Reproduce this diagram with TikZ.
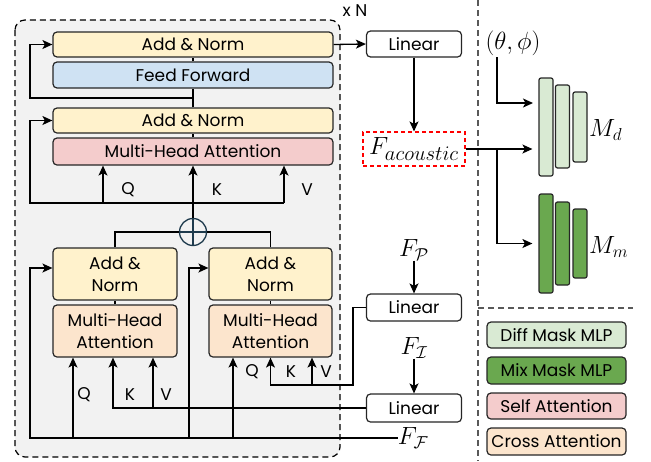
\documentclass[tikz,border=0pt]{standalone}
\usepackage{amsmath}
\usepackage{fontspec}
\setmainfont{Poppins}
\usetikzlibrary{arrows.meta, positioning}

\definecolor{bggray}{HTML}{F2F2F2}
\definecolor{normyellow}{HTML}{FFF2CC}
\definecolor{ffblue}{HTML}{CFE2F3}
\definecolor{selfpink}{HTML}{F4CCCC}
\definecolor{crosspeach}{HTML}{FCE5CD}
\definecolor{difgreen}{HTML}{D9EAD3}
\definecolor{mixgreen}{HTML}{6AA84F}
\definecolor{sumblue}{HTML}{1F3B4D}

\tikzset{
  blk/.style={draw=black!85, line width=1.2pt, rounded corners=4pt, inner sep=0pt, align=center, font=\fontsize{17}{22}\selectfont},
  bar/.style={draw=black!85, line width=1.2pt, rounded corners=2pt, minimum width=14pt, inner sep=0pt},
  conn/.style={line width=1.3pt},
  arr/.style={line width=1.3pt, -{Stealth[length=10pt, width=9pt, inset=2.5pt]}},
  mlbl/.style={font=\fontsize{27}{30}\selectfont, inner sep=0pt},
  qkv/.style={font=\fontsize{17}{19}\selectfont, inner sep=0pt},
}

\begin{document}
\begin{tikzpicture}[x=1pt, y=-1pt]
\useasboundingbox (0,0) rectangle (651,461);

\draw[dash pattern=on 6pt off 4pt, line width=1.2pt, rounded corners=10pt, fill=bggray] (15,20) rectangle (340,457);
\node[qkv](xN) at (355,11) {x N};
\draw[dash pattern=on 6pt off 4pt, line width=1.3pt, black!65] (478,0) -- (478,461);
\draw[dash pattern=on 6pt off 4pt, line width=1.3pt, black!65] (478,308) -- (633,308);

\node[blk, fill=normyellow, minimum width=280pt, minimum height=25pt](AN1) at (193,44.5) {Add \& Norm};
\node[blk, fill=ffblue, minimum width=280pt, minimum height=26pt](FFN) at (193,75) {Feed Forward};
\node[blk, fill=normyellow, minimum width=280pt, minimum height=25pt](AN2) at (193,120.5) {Add \& Norm};
\node[blk, fill=selfpink, minimum width=280pt, minimum height=27pt](SA) at (193,151.5) {Multi-Head Attention};

\node[circle, draw=sumblue, line width=1.3pt, minimum size=27pt, inner sep=0pt](Sum) at (193,232) {};
\draw[line width=1.3pt, sumblue] (Sum.north) -- (Sum.south);
\draw[line width=1.3pt, sumblue] (Sum.west) -- (Sum.east);

\node[blk, fill=normyellow, minimum width=124pt, minimum height=52pt](ANL) at (115,274) {Add \&\\Norm};
\node[blk, fill=crosspeach, minimum width=124pt, minimum height=52pt](CAL) at (115,331) {Multi-Head\\Attention};
\node[blk, fill=normyellow, minimum width=123pt, minimum height=52pt](ANR) at (270.5,274) {Add \&\\Norm};
\node[blk, fill=crosspeach, minimum width=123pt, minimum height=52pt](CAR) at (270.5,331) {Multi-Head\\Attention};

\node[blk, fill=white, minimum width=95pt, minimum height=26pt](LinT) at (414,44) {Linear};
\node[blk, fill=white, minimum width=95pt, minimum height=27pt](LinP) at (414,307.5) {Linear};
\node[blk, fill=white, minimum width=95pt, minimum height=28pt](LinI) at (414,408) {Linear};

\node[draw=red, dash pattern=on 4pt off 3pt, line width=1.1pt, minimum width=102pt, minimum height=34pt, inner sep=0pt, font=\fontsize{28}{30}\selectfont](Fac) at (414,149) {$F_{acoustic}$};
\node[mlbl](FP) at (414,250) {$F_{\mathcal{P}}$};
\node[mlbl](FI) at (414,348) {$F_{\mathcal{I}}$};
\node[mlbl](FFeat) at (413,438) {$F_{\mathcal{F}}$};
\node[mlbl, font=\fontsize{23}{26}\selectfont](Ang) at (513,43) {$(\theta,\phi)$};

\node[bar, fill=difgreen, minimum height=98pt](Md1) at (546,127) {};
\node[bar, fill=difgreen, minimum height=83pt](Md2) at (562.5,126.5) {};
\node[bar, fill=difgreen, minimum height=70pt](Md3) at (580,127) {};
\node[bar, fill=mixgreen, minimum height=99pt](Mm1) at (546,243.5) {};
\node[bar, fill=mixgreen, minimum height=83pt](Mm2) at (562.5,243.5) {};
\node[bar, fill=mixgreen, minimum height=69pt](Mm3) at (580,243.5) {};
\node[mlbl, anchor=west](Mdl) at (589,130) {$M_d$};
\node[mlbl, anchor=west](Mml) at (589,247) {$M_m$};

\node[blk, fill=difgreen, minimum width=139pt, minimum height=26pt](LgD) at (556.5,335) {Diff Mask MLP};
\node[blk, fill=mixgreen, minimum width=139pt, minimum height=27pt](LgM) at (556.5,370.5) {Mix Mask MLP};
\node[blk, fill=selfpink, minimum width=139pt, minimum height=26pt](LgS) at (556.5,406) {Self Attention};
\node[blk, fill=crosspeach, minimum width=139pt, minimum height=27pt](LgC) at (556.5,441.5) {Cross Attention};

\coordinate (J1) at (193,98);
\coordinate (J2) at (193,203);
\coordinate (Qs) at (103,203);
\coordinate (Vs) at (284,203);
\coordinate (J3) at (497,149);
\coordinate (QL) at (73,438);
\coordinate (VL) at (153,408);
\coordinate (RR) at (189,438);
\coordinate (QR) at (233,438);
\coordinate (KR) at (353,385);
\coordinate (VR) at (312,385);
\coordinate (MdIn) at (539,103);

\draw[conn] (SA.north) -- (AN2.south);
\draw[conn] (AN2.north) -- (FFN.south);
\draw[conn] (FFN.north) -- (AN1.south);
\draw[arr] (J1) -- (30,98) |- (AN1.west);
\draw[arr] (Vs) -- (30,203) |- (AN2.west);
\draw[arr] (Sum.north) -- (SA.south);
\draw[arr] (Qs) -- (Qs |- SA.south);
\draw[arr] (Vs) -- (Vs |- SA.south);
\node[qkv](Qa) at (128,190) {Q};
\node[qkv](Ka) at (217,190) {K};
\node[qkv](Va) at (307,190) {V};

\draw[conn] (ANL.north) |- (Sum.west);
\draw[conn] (ANR.north) |- (Sum.east);
\draw[conn] (CAL.north) -- (ANL.south);
\draw[conn] (CAR.north) -- (ANR.south);

\draw[arr] (FFeat.west) -- (30,438) |- ([yshift=6pt]ANL.west);
\draw[arr] (RR) |- ([yshift=6pt]ANR.west);
\draw[arr] (QL) -- (QL |- CAL.south);
\draw[arr] (LinI.west) -| ([xshift=-2pt]CAL.south);
\draw[arr] (VL) -- (VL |- CAL.south);
\node[qkv](Qb) at (84,395) {Q};
\node[qkv](Kb) at (130,395) {K};
\node[qkv](Vb) at (166,395) {V};

\draw[arr] (QR) -- (QR |- CAR.south);
\draw[arr] (LinP.west) -| (KR) -| (CAR.south);
\draw[arr] (VR) -- (VR |- CAR.south);
\node[qkv](Qc) at (252,372) {Q};
\node[qkv](Kc) at (291,372) {K};
\node[qkv](Vc) at (326,372) {V};

\draw[arr] (FP) -- (LinP);
\draw[arr] (FI) -- (LinI);
\draw[arr] (AN1.east) -- (LinT.west);
\draw[arr] (LinT.south) -- (Fac.north);
\draw[arr, shorten >=6pt] (Fac.east) -- (Fac.east -| Md1.west);
\draw[arr, shorten >=6pt] (J3) |- (Mm1.west);
\draw[arr, shorten >=6pt] (497,57) |- (MdIn);
\end{tikzpicture}
\end{document}
